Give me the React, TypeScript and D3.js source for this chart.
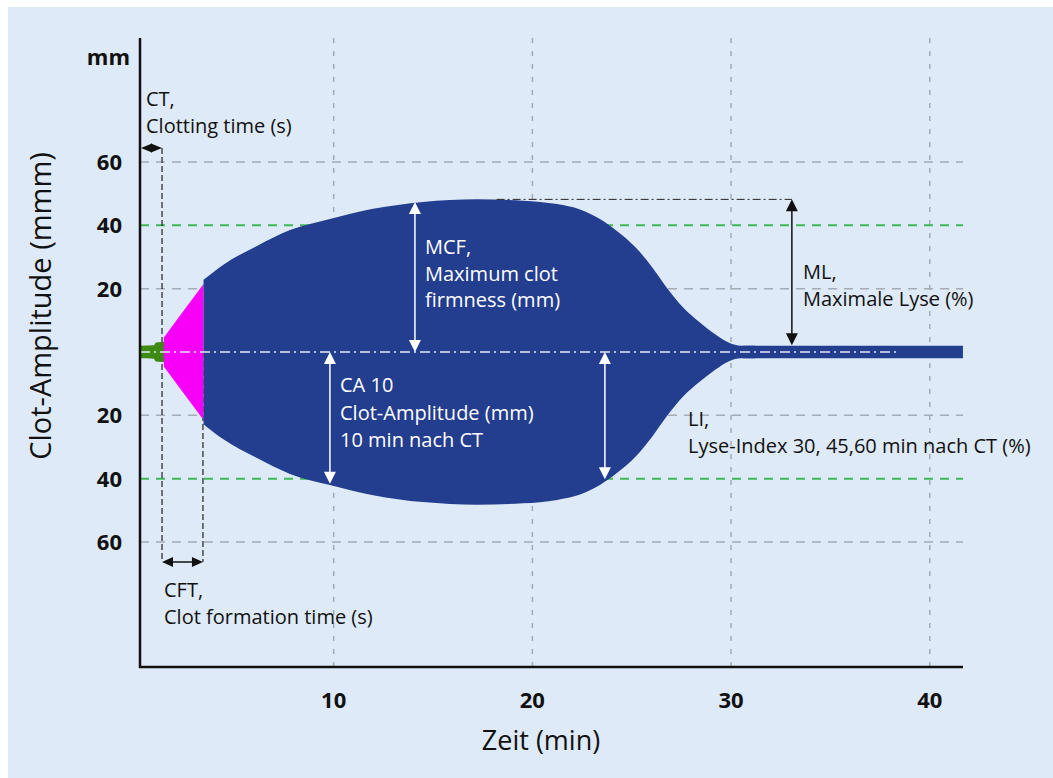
import React, { useEffect, useRef } from "react";
import * as d3 from "d3";

// axis ticks
const timeTicks = [10, 20, 30, 40];
const ampTicks = [60, 40, 20, -20, -40, -60];
const greenRefLines = [40, -40];
const greyRefLines = [60, 20, -20, -60];

// coagulation phase before CT (green)
const ctTime = [0.25, 0.95, 1.05, 1.6];
const ctAmp = [2.0, 2.1, 3.0, 3.2];

// clot formation phase CT -> CFT (magenta)
const cftTime = [1.45, 2.4, 3.45];
const cftAmp = [4.6, 12.6, 21.5];

// clot curve after CFT (blue)
const clotTime = [3.45, 4.43, 6.14, 7.8, 9.81, 11.98, 14.49, 17.21, 19.53, 21.24, 22.4, 23.4, 24.3, 25.2, 26.0, 26.8, 27.6, 28.4, 29.2, 29.9, 30.5, 31.2];
const clotAmp = [22.8, 27.5, 33.5, 38.5, 42.0, 45.2, 47.4, 48.2, 47.8, 46.7, 45.0, 42.0, 38.0, 33.0, 27.0, 20.0, 14.0, 9.5, 5.6, 2.9, 2.0, 2.0];

// flat residual trace after lysis
const tailTime = [30.6, 41.67];
const tailAmp = [2.0, 2.0];

// markers (minutes / mm)
const CT = 1.36;
const CFT = 3.42;
const MCF_T = 14.09, MCF_A = 47.4;
const CA10_T = 9.81, CA10_A = -41.6;
const LI_T = 23.65, LI_A = -40.2;
const ML_T = 33.06, ML_TOP = 48.2, ML_BOTTOM = 2.1, ML_START = 18.2;

const FONT = "'Open Sans', 'Noto Sans', sans-serif";

function App() {
  const ref = useRef<SVGSVGElement>(null);

  useEffect(() => {
    const svg = d3.select(ref.current);
    svg.selectAll("*").remove();

    // plot frame in page pixels
    const left = 140, right = 963, top = 38, bottom = 667;

    const x = d3.scaleLinear().domain([0, 42]).range([135, 969.5]);
    const y = d3.scaleLinear().domain([-60, 60]).range([542, 162]);

    // background
    svg.append("rect").attr("width", 1053).attr("height", 778).attr("fill", "#ffffff");
    svg.append("rect").attr("x", 8).attr("y", 7).attr("width", 1045).attr("height", 771).attr("fill", "#deeaf7");

    // grid
    const grid = svg.append("g");
    grid.selectAll(".vgrid").data(timeTicks).join("line")
      .attr("x1", d => x(d)).attr("x2", d => x(d))
      .attr("y1", top).attr("y2", bottom)
      .attr("stroke", "#a4abb4").attr("stroke-width", 1.5).attr("stroke-dasharray", "5,8");
    grid.selectAll(".hgrid").data(greyRefLines).join("line")
      .attr("x1", left).attr("x2", right)
      .attr("y1", d => y(d)).attr("y2", d => y(d))
      .attr("stroke", "#a4abb4").attr("stroke-width", 1.5).attr("stroke-dasharray", "9,7");
    grid.selectAll(".ggrid").data(greenRefLines).join("line")
      .attr("x1", left).attr("x2", right)
      .attr("y1", d => y(d)).attr("y2", d => y(d))
      .attr("stroke", "#3dbb55").attr("stroke-width", 2).attr("stroke-dasharray", "9,7");

    // CT / CFT dashed guides (under the curve)
    svg.append("line").attr("x1", x(CT)).attr("x2", x(CT)).attr("y1", 148).attr("y2", 562)
      .attr("stroke", "#222").attr("stroke-width", 1.2).attr("stroke-dasharray", "6,3");
    svg.append("line").attr("x1", x(CFT)).attr("x2", x(CFT)).attr("y1", y(0)).attr("y2", 562)
      .attr("stroke", "#222").attr("stroke-width", 1.2).attr("stroke-dasharray", "6,3");

    // symmetric amplitude areas
    const area = d3.area<[number, number]>()
      .x(d => x(d[0]))
      .y0(d => y(-d[1]))
      .y1(d => y(d[1]));

    const pairs = (ts: number[], as: number[]) => ts.map((t, i) => [t, as[i]] as [number, number]);

    svg.append("path").attr("d", area.curve(d3.curveMonotoneX)(pairs(ctTime, ctAmp))).attr("fill", "#3f8a12");
    svg.append("path").attr("d", area.curve(d3.curveLinear)(pairs(cftTime, cftAmp))).attr("fill", "#f700f7");
    svg.append("path").attr("d", area.curve(d3.curveMonotoneX)(pairs(clotTime, clotAmp))).attr("fill", "#233d8f");
    svg.append("path").attr("d", area.curve(d3.curveLinear)(pairs(tailTime, tailAmp))).attr("fill", "#233d8f");

    // center dash-dot line
    svg.append("line").attr("x1", left).attr("x2", 897).attr("y1", y(0)).attr("y2", y(0))
      .attr("stroke", "#e4ecf7").attr("stroke-width", 1.5).attr("stroke-dasharray", "10,4,2,4");

    // ML reference dash-dot
    svg.append("line").attr("x1", x(ML_START)).attr("x2", x(ML_T)).attr("y1", y(ML_TOP)).attr("y2", y(ML_TOP))
      .attr("stroke", "#222").attr("stroke-width", 1).attr("stroke-dasharray", "8,3,2,3");

    // axes
    svg.append("line").attr("x1", left).attr("x2", left).attr("y1", top).attr("y2", bottom + 1)
      .attr("stroke", "#111").attr("stroke-width", 2.5);
    svg.append("line").attr("x1", left - 1).attr("x2", right).attr("y1", bottom).attr("y2", bottom)
      .attr("stroke", "#111").attr("stroke-width", 2.5);

    svg.selectAll(".ytick").data(ampTicks).join("text")
      .attr("x", 122).attr("y", d => y(d) + 8)
      .attr("text-anchor", "end").attr("font-family", FONT).attr("font-weight", 700)
      .attr("font-size", 22).attr("fill", "#111")
      .text(d => Math.abs(d));
    svg.selectAll(".xtick").data(timeTicks).join("text")
      .attr("x", d => x(d)).attr("y", 708)
      .attr("text-anchor", "middle").attr("font-family", FONT).attr("font-weight", 700)
      .attr("font-size", 22).attr("fill", "#111")
      .text(d => d);
    svg.append("text").attr("x", 130).attr("y", 65).attr("text-anchor", "end")
      .attr("font-family", FONT).attr("font-weight", 700).attr("font-size", 22).attr("fill", "#111")
      .text("mm");

    // axis titles
    svg.append("text").attr("transform", `translate(51, 306) rotate(-90)`)
      .attr("text-anchor", "middle").attr("font-family", FONT).attr("font-size", 29).attr("fill", "#111")
      .text("Clot-Amplitude (mmm)");
    svg.append("text").attr("x", 541).attr("y", 750)
      .attr("text-anchor", "middle").attr("font-family", FONT).attr("font-size", 27).attr("fill", "#111")
      .text("Zeit (min)");

    // arrow helpers
    const head = (px: number, py: number, dx: number, dy: number, color: string, len = 12, wid = 6) => {
      const nx = -dy, ny = dx;
      const pts = [
        [px, py],
        [px - dx * len + nx * wid, py - dy * len + ny * wid],
        [px - dx * len - nx * wid, py - dy * len - ny * wid],
      ];
      svg.append("polygon").attr("points", pts.map(p => p.join(",")).join(" ")).attr("fill", color);
    };
    const vArrow = (t: number, a0: number, a1: number, color: string) => {
      const px = x(t), y0 = y(a0), y1 = y(a1);
      const dir = y1 > y0 ? 1 : -1;
      svg.append("line").attr("x1", px).attr("x2", px).attr("y1", y0 + dir * 6).attr("y2", y1 - dir * 6)
        .attr("stroke", color).attr("stroke-width", 1.5);
      head(px, y1, 0, dir, color);
      head(px, y0, 0, -dir, color);
    };
    const hArrow = (x0: number, x1: number, py: number, color: string, len: number, wid: number) => {
      svg.append("line").attr("x1", x0 + len / 2).attr("x2", x1 - len / 2).attr("y1", py).attr("y2", py)
        .attr("stroke", color).attr("stroke-width", 1.5);
      head(x1, py, 1, 0, color, len, wid);
      head(x0, py, -1, 0, color, len, wid);
    };

    vArrow(MCF_T, 0, MCF_A, "#ffffff");
    vArrow(CA10_T, 0, CA10_A, "#ffffff");
    vArrow(LI_T, 0, LI_A, "#ffffff");
    vArrow(ML_T, ML_BOTTOM, ML_TOP, "#111111");
    hArrow(left + 1, x(CT), 148, "#111111", 11, 4.5);
    hArrow(x(CT), x(CFT), 562, "#111111", 11, 5);

    // annotation texts
    const label = (lines: string[], tx: number, ty: number, color: string, lh = 27) => {
      const t = svg.append("text").attr("font-family", FONT).attr("font-size", 20).attr("fill", color);
      lines.forEach((s, i) => t.append("tspan").attr("x", tx).attr("y", ty + i * lh).text(s));
    };
    label(["CT,", "Clotting time (s)"], 146, 106, "#111");
    label(["MCF,", "Maximum clot", "firmness (mm)"], 425, 254, "#ffffff", 26.5);
    label(["CA 10", "Clot-Amplitude (mm)", "10 min nach CT"], 340, 392, "#ffffff", 27.5);
    label(["ML,", "Maximale Lyse (%)"], 803, 279, "#111");
    label(["LI,", "Lyse-Index 30, 45,60 min nach CT (%)"], 688, 426, "#111");
    label(["CFT,", "Clot formation time (s)"], 164, 597, "#111");
  }, []);

  return (
    <svg ref={ref} width={1053} height={778}
      style={{ position: "absolute", left: 0, top: 0, display: "block" }} />
  );
}

export default App;
